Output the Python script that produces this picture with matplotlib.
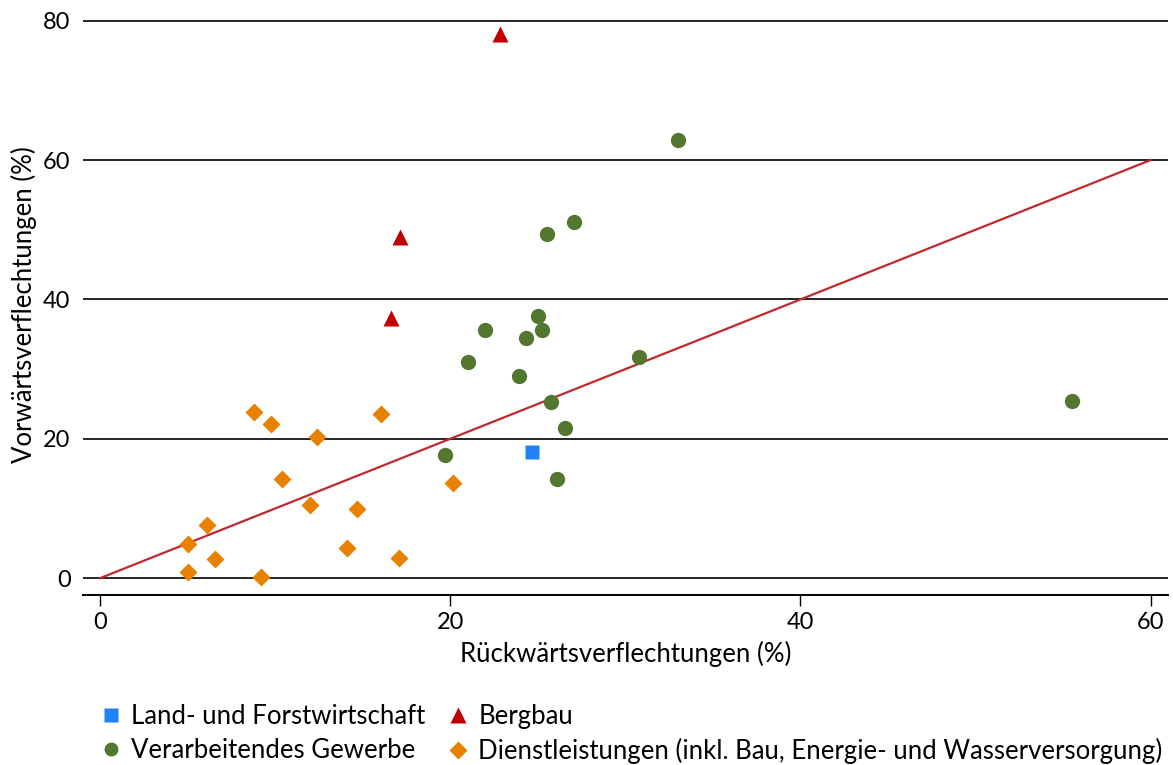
import matplotlib
matplotlib.use("Agg")
import matplotlib.pyplot as plt
from matplotlib.lines import Line2D

plt.rcParams['font.family'] = ['Lato', 'DejaVu Sans']

# Rueckwaerts- (x) und Vorwaertsverflechtungen (y) in Prozent
land_x = [24.66]
land_y = [18.14]

bergbau_x = [22.87, 17.11, 16.62]
bergbau_y = [78.13, 48.93, 37.30]

verarb_x = [33.03, 27.06, 25.51, 25.03, 21.96, 25.23, 24.34, 21.03, 23.92,
            30.76, 25.76, 26.58, 19.72, 26.08, 55.50]
verarb_y = [62.90, 51.17, 49.37, 37.63, 35.62, 35.62, 34.43, 30.98, 29.06,
            31.70, 25.32, 21.50, 17.67, 14.18, 25.42]

dienst_x = [8.78, 9.75, 12.42, 16.03, 10.37, 11.98, 14.68, 6.09, 5.04,
            6.56, 5.04, 9.22, 14.11, 17.07, 20.15]
dienst_y = [23.80, 22.07, 20.20, 23.55, 14.18, 10.48, 9.87, 7.61, 4.88,
            2.73, 0.90, 0.14, 4.27, 2.83, 13.69]

diag = [0, 60]

c_land = '#1f83f7'
c_berg = '#c00000'
c_verarb = '#53772f'
c_dienst = '#e88000'
c_line = '#c0282d'

fig = plt.figure(figsize=(11.73, 7.65), dpi=100)
ax = fig.add_axes([0.0708, 0.222, 0.925, 0.760])

for y in [0, 20, 40, 60, 80]:
    ax.axhline(y, color='black', lw=1.2, zorder=1)

ax.plot(diag, diag, color=c_line, lw=1.6, zorder=2)

ax.plot(dienst_x, dienst_y, ls='none', marker='D', ms=9.6, color=c_dienst, mec='none', zorder=3)
ax.plot(verarb_x, verarb_y, ls='none', marker='o', ms=11, color=c_verarb, mec='none', zorder=3)
ax.plot(bergbau_x, bergbau_y, ls='none', marker='^', ms=12, color=c_berg, mec='none', zorder=3)
ax.plot(land_x, land_y, ls='none', marker='s', ms=10.5, color=c_land, mec='none', zorder=3)

ax.set_xlim(-0.97, 61.0)
ax.set_ylim(-2.44, 81)
ax.set_xticks([0, 20, 40, 60])
ax.set_yticks([0, 20, 40, 60, 80])
for s in ['top', 'right', 'left']:
    ax.spines[s].set_visible(False)
ax.spines['bottom'].set_linewidth(1.4)
ax.tick_params(axis='y', length=0, labelsize=17, pad=9)
ax.tick_params(axis='x', length=8, width=1, labelsize=17, pad=4)
ax.set_xlabel('Rückwärtsverflechtungen (%)', fontsize=18.5, labelpad=6)
ax.set_ylabel('Vorwärtsverflechtungen (%)', fontsize=18.5, labelpad=4)

handles = [
    Line2D([], [], ls='none', marker='s', ms=10, color=c_land, mec='none'),
    Line2D([], [], ls='none', marker='o', ms=10, color=c_verarb, mec='none'),
    Line2D([], [], ls='none', marker='^', ms=11, color=c_berg, mec='none'),
    Line2D([], [], ls='none', marker='D', ms=9, color=c_dienst, mec='none'),
]
labels = ['Land- und Forstwirtschaft', 'Verarbeitendes Gewerbe', 'Bergbau',
          'Dienstleistungen (inkl. Bau, Energie- und Wasserversorgung)']
fig.legend(handles, labels, ncol=2, loc='lower left', bbox_to_anchor=(0.067, -0.029),
           frameon=False, fontsize=18.5, handlelength=0.7, handletextpad=0.45,
           columnspacing=0.9, labelspacing=0.35)

fig.savefig('out.png', dpi=100)
